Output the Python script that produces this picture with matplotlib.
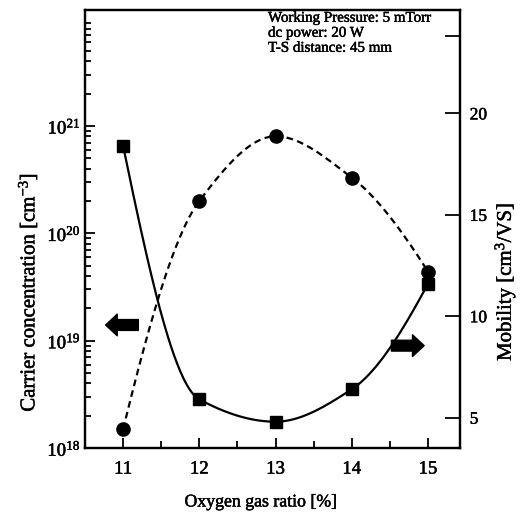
import numpy as np
import matplotlib
matplotlib.use("Agg")
import matplotlib.pyplot as plt
import matplotlib.patheffects as pe
from matplotlib.ticker import LogLocator, NullFormatter, FixedLocator

plt.rcParams['font.family'] = ['Liberation Serif', 'DejaVu Serif']
plt.rcParams['mathtext.fontset'] = 'custom'
plt.rcParams['mathtext.rm'] = 'Liberation Serif'
plt.rcParams['mathtext.it'] = 'Liberation Serif:italic'
plt.rcParams['mathtext.bf'] = 'Liberation Serif:bold'

# %% Data
oxygen_ratio = [11, 12, 13, 14, 15]
carrier_conc = [1.5e18, 2.0e20, 8.0e20, 3.3e20, 4.4e19]   # left axis, dashed / circles
mobility = [18.4, 5.9, 4.8, 6.4, 11.6]                    # right axis, solid / squares

x_ticks = [11, 12, 13, 14, 15]
conc_ticks = [1e18, 1e19, 1e20, 1e21]
mob_ticks = [5, 10, 15, 20]

info_lines = ["Working Pressure: 5 mTorr", "dc power: 20 W", "T-S distance: 45 mm"]


# monotone cubic (pchip) used only to draw the smooth guide lines
def pchip(x, y, xn):
    x = np.asarray(x, float); y = np.asarray(y, float)
    h = np.diff(x); d = np.diff(y) / h
    m = np.zeros_like(y)
    for k in range(1, len(x) - 1):
        if d[k-1] * d[k] > 0:
            w1 = 2*h[k] + h[k-1]; w2 = h[k] + 2*h[k-1]
            m[k] = (w1 + w2) / (w1 / d[k-1] + w2 / d[k])

    def end(h0, h1, d0, d1):
        mm = ((2*h0 + h1)*d0 - h0*d1) / (h0 + h1)
        if np.sign(mm) != np.sign(d0):
            mm = 0.0
        elif np.sign(d0) != np.sign(d1) and abs(mm) > abs(3*d0):
            mm = 3*d0
        return mm
    m[0] = end(h[0], h[1], d[0], d[1])
    m[-1] = end(h[-1], h[-2], d[-1], d[-2])
    idx = np.clip(np.searchsorted(x, xn) - 1, 0, len(x) - 2)
    t = (xn - x[idx]) / h[idx]
    h00 = 2*t**3 - 3*t**2 + 1; h10 = t**3 - 2*t**2 + t
    h01 = -2*t**3 + 3*t**2; h11 = t**3 - t**2
    return h00*y[idx] + h10*h[idx]*m[idx] + h01*y[idx+1] + h11*h[idx]*m[idx+1]


xs = np.linspace(oxygen_ratio[0], oxygen_ratio[-1], 300)
conc_smooth = 10 ** pchip(oxygen_ratio, np.log10(carrier_conc), xs)
mob_smooth = pchip(oxygen_ratio, mobility, xs)

# %% Figure
fig = plt.figure(figsize=(5.26, 5.18), dpi=100)
ax = fig.add_axes([0.1616, 0.135, 0.7129, 0.8457])
ax2 = ax.twinx()

# left axis: carrier concentration
ax.plot(xs, conc_smooth, color='black', lw=1.6, dashes=(3, 2))
ax.plot(oxygen_ratio, carrier_conc, 'o', color='black', ms=9.5)
ax.set_yscale('log')
ax.set_ylim(1e18, 1.2e22)
ax.set_xlim(10.63, 15.42)
ax.yaxis.set_major_locator(FixedLocator(conc_ticks))
ax.yaxis.set_minor_locator(LogLocator(base=10, subs=np.arange(2, 10)))
ax.yaxis.set_minor_formatter(NullFormatter())
ax.set_xticks(x_ticks)
ax.set_xticks(np.arange(10.5, 15.5, 0.5), minor=True)

# right axis: mobility
ax2.plot(xs, mob_smooth, color='black', lw=1.6)
ax2.plot(oxygen_ratio, mobility, 's', color='black', ms=8.5)
ax2.set_ylim(3.5, 25.1)
ax2.set_yticks(mob_ticks)
ax2.set_yticks([23.8], minor=True)

for a in (ax, ax2):
    for s in a.spines.values():
        s.set_linewidth(1.6)
ax.tick_params(axis='both', which='both', direction='in', width=1.3, labelsize=13.5)
ax.tick_params(axis='y', which='major', length=7, pad=3)
ax.tick_params(axis='y', which='minor', length=4)
ax.tick_params(axis='x', which='major', length=7, pad=9)
ax.tick_params(axis='x', which='minor', length=5)
ax.tick_params(top=False, right=False, which='both')
ax2.tick_params(axis='y', which='both', direction='in', width=1.3, length=11, labelsize=12.5, pad=7)

ax.set_xlabel('Oxygen gas ratio [%]', fontsize=12.8, ha='center', va='center')
ax.xaxis.set_label_coords(0.469, -0.123)
ax.set_ylabel('Carrier concentration [cm$^{-3}$]', fontsize=15, ha='center', va='center')
ax.yaxis.set_label_coords(-0.152, 0.356)
ax2.set_ylabel('Mobility [cm$^3$/VS]', fontsize=15, ha='center', va='center')
ax2.yaxis.set_label_coords(1.12, 0.38)

# direction arrows
ax.annotate('', xy=(10.77, 1.4e19), xytext=(11.2, 1.4e19),
            arrowprops=dict(arrowstyle='simple,head_length=0.7,head_width=1.3,tail_width=0.65',
                            fc='black', ec='black', mutation_scale=12, shrinkA=0, shrinkB=0))
ax2.annotate('', xy=(14.95, 8.55), xytext=(14.52, 8.55),
             arrowprops=dict(arrowstyle='simple,head_length=0.7,head_width=1.3,tail_width=0.65',
                             fc='black', ec='black', mutation_scale=12, shrinkA=0, shrinkB=0))

# process conditions
ax.text(0.488, 0.996, "\n".join(info_lines), transform=ax.transAxes,
        fontsize=10.8, va='top', ha='left', linespacing=1.2)

# slightly heavier strokes, like the scanned original
heavy = [pe.withStroke(linewidth=0.35, foreground='black')]
texts = (ax.get_xticklabels() + ax.get_yticklabels() + ax2.get_yticklabels()
         + [ax.xaxis.label, ax.yaxis.label, ax2.yaxis.label] + ax.texts)
for t in texts:
    t.set_path_effects(heavy)

fig.savefig('out.png', dpi=100)
